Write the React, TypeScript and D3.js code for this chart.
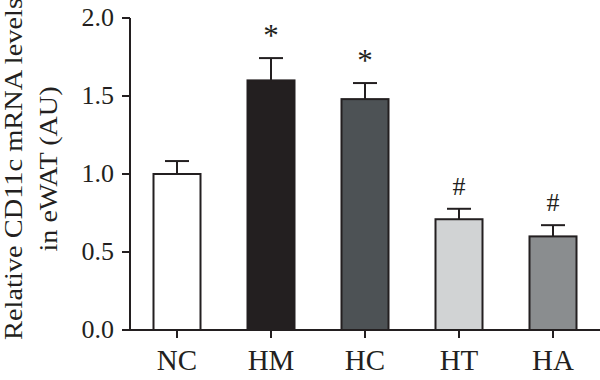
import React from "react";
import * as d3 from "d3";

const categories = ["NC", "HM", "HC", "HT", "HA"];
const means = [1.0, 1.6, 1.48, 0.71, 0.6];
const sems = [0.083, 0.143, 0.103, 0.067, 0.072];
const marks = ["", "*", "*", "#", "#"];
const fills = ["#ffffff", "#231f20", "#4d5255", "#d1d3d4", "#8a8d8f"];
const yTicks = [0, 0.5, 1.0, 1.5, 2.0];

const W = 600;
const H = 380;
const font = "'Liberation Serif', 'Times New Roman', serif";
const ink = "#231f20";

export default function App() {
  const x = d3.scaleBand<string>().domain(categories).range([130, 600]).paddingInner(0.5).paddingOuter(0.25);
  const y = d3.scaleLinear().domain([0, 2]).range([330, 18]);
  const bw = x.bandwidth();
  return (
    <svg width={W} height={H} style={{ position: "absolute", left: 0, top: 0, background: "#fff" }}>
      {categories.map((c, i) => {
        const x0 = x(c)!;
        const cx = x0 + bw / 2;
        const top = y(means[i]);
        const et = y(means[i] + sems[i]);
        return (
          <g key={c}>
            <line x1={cx} x2={cx} y1={top} y2={et} stroke={ink} strokeWidth={2} />
            <line x1={cx - 12} x2={cx + 12} y1={et} y2={et} stroke={ink} strokeWidth={2} />
            <rect x={x0} y={top} width={bw} height={y(0) - top} fill={fills[i]} stroke={ink} strokeWidth={2} />
            {marks[i] && (
              <text
                x={cx}
                y={marks[i] === "*" ? et - 12 : et - 14}
                textAnchor="middle"
                fontFamily={font}
                fontSize={marks[i] === "*" ? 31 : 26}
                fill={ink}
              >
                {marks[i]}
              </text>
            )}
          </g>
        );
      })}
      <line x1={130} x2={130} y1={y(2)} y2={y(0)} stroke={ink} strokeWidth={2} />
      {yTicks.map((t) => (
        <g key={t}>
          <line x1={122} x2={130} y1={y(t)} y2={y(t)} stroke={ink} strokeWidth={2} />
          <text x={114} y={y(t) + 8} textAnchor="end" fontFamily={font} fontSize={26} fill={ink}>
            {t.toFixed(1)}
          </text>
        </g>
      ))}
      <line x1={122} x2={600} y1={y(0)} y2={y(0)} stroke={ink} strokeWidth={2} />
      {categories.map((c) => {
        const cx = x(c)! + bw / 2;
        return (
          <g key={c}>
            <line x1={cx} x2={cx} y1={y(0)} y2={y(0) + 8} stroke={ink} strokeWidth={2} />
            <text x={cx} y={370} textAnchor="middle" fontFamily={font} fontSize={29} fill={ink}>
              {c}
            </text>
          </g>
        );
      })}
      <g transform="translate(22,169) rotate(-90)">
        <text x={0} y={0} textAnchor="middle" fontFamily={font} fontSize={25} fill={ink} textLength={342} lengthAdjust="spacingAndGlyphs">
          Relative CD11c mRNA levels
        </text>
        <text x={0} y={35} textAnchor="middle" fontFamily={font} fontSize={25} fill={ink} textLength={165} lengthAdjust="spacingAndGlyphs">
          in eWAT (AU)
        </text>
      </g>
    </svg>
  );
}
